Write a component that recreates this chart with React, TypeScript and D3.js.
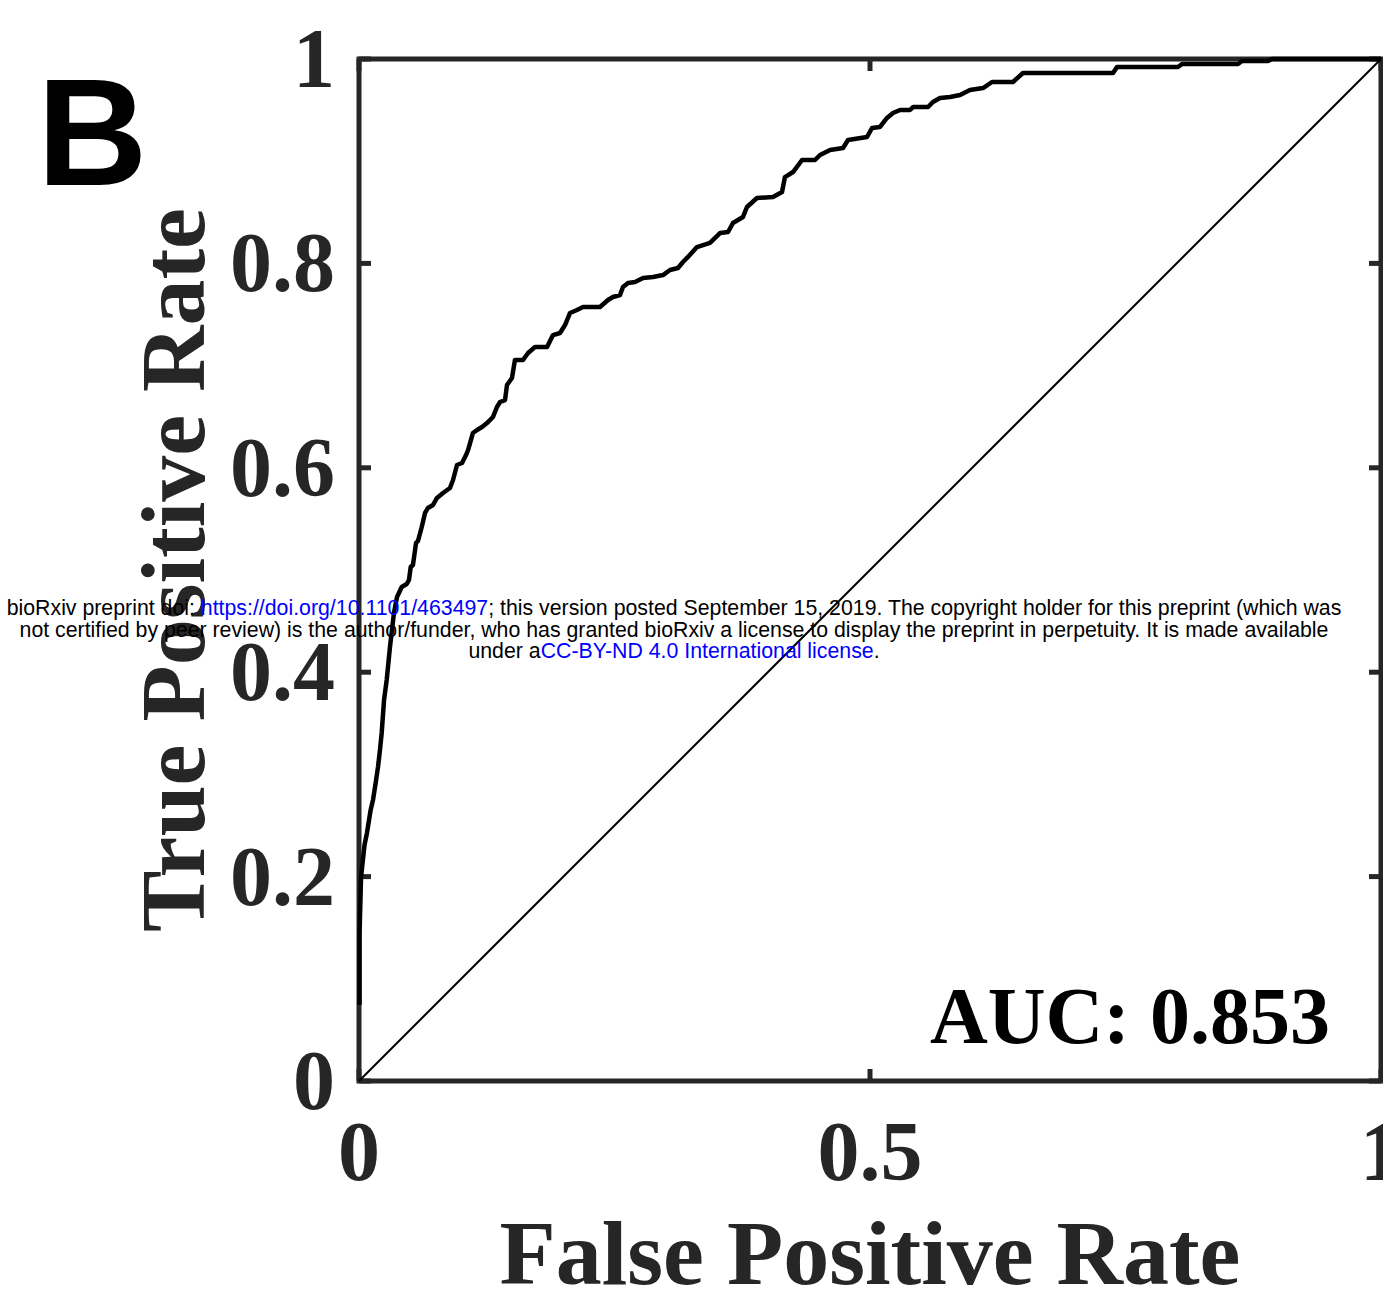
import React from "react";
import * as d3 from "d3";

// ROC curve points (False Positive Rate, True Positive Rate)
const fpr = [
  0.0005, 0.0005, 0.002, 0.0054, 0.0078, 0.0114, 0.0137, 0.0163, 0.0186, 0.0205,
  0.0222, 0.0245, 0.0271, 0.0303, 0.0342, 0.0372, 0.0418, 0.0467, 0.0489, 0.0506,
  0.0528, 0.0558, 0.0577, 0.0614, 0.0646, 0.0675, 0.0724, 0.0763, 0.0822, 0.089,
  0.092, 0.0959, 0.1008, 0.1047, 0.1067, 0.1115, 0.1155, 0.1204, 0.1252, 0.1311,
  0.135, 0.138, 0.1429, 0.1448, 0.1497, 0.1526, 0.1605, 0.1654, 0.1722, 0.184,
  0.1898, 0.1967, 0.2016, 0.2065, 0.2133, 0.2192, 0.2358, 0.2436, 0.2485, 0.2554,
  0.2583, 0.2632, 0.2701, 0.2779, 0.2877, 0.2975, 0.3043, 0.3121, 0.317, 0.3219,
  0.3307, 0.3434, 0.3532, 0.3611, 0.3659, 0.3757, 0.3796, 0.3894, 0.4051, 0.4139,
  0.4168, 0.4247, 0.4335, 0.4462, 0.4511, 0.4609, 0.4736, 0.4785, 0.4971, 0.502,
  0.5098, 0.5166, 0.5225, 0.5294, 0.5391, 0.5421, 0.5568, 0.5616, 0.5685, 0.5783,
  0.5881, 0.5978, 0.6106, 0.6194, 0.6399, 0.6497, 0.7378, 0.7417, 0.8014, 0.8053,
  0.8601, 0.864, 0.8894, 0.8933, 1.0,
];
const tpr = [
  0.0744, 0.1429, 0.1996, 0.2309, 0.2427, 0.2652, 0.275, 0.2916, 0.3072, 0.3239,
  0.3405, 0.3728, 0.3924, 0.4247, 0.4579, 0.4736, 0.4834, 0.4863, 0.4902, 0.5029,
  0.5049, 0.5264, 0.5284, 0.5421, 0.5558, 0.5607, 0.5636, 0.5705, 0.5753, 0.5802,
  0.5881, 0.6027, 0.6047, 0.6125, 0.6174, 0.6341, 0.637, 0.6399, 0.6438, 0.6497,
  0.6595, 0.6644, 0.6663, 0.681, 0.6879, 0.7055, 0.7055, 0.7123, 0.7182, 0.7182,
  0.7299, 0.7319, 0.7397, 0.7515, 0.7544, 0.7573, 0.7573, 0.7642, 0.7671, 0.7691,
  0.7769, 0.7808, 0.7818, 0.7857, 0.7867, 0.7886, 0.7935, 0.7955, 0.8014, 0.8063,
  0.816, 0.82, 0.8297, 0.8307, 0.8395, 0.8454, 0.8552, 0.864, 0.865, 0.8699,
  0.8845, 0.8894, 0.9012, 0.9012, 0.9061, 0.911, 0.9129, 0.9207, 0.9237, 0.9325,
  0.9335, 0.9423, 0.9472, 0.9501, 0.9501, 0.953, 0.953, 0.9579, 0.9618, 0.9628,
  0.9648, 0.9697, 0.9716, 0.9775, 0.9775, 0.9863, 0.9863, 0.9922, 0.9922, 0.9951,
  0.9951, 0.998, 0.998, 1.0, 1.0,
];
const xTicks = [0, 0.5, 1];
const xTickLabels = ["0", "0.5", "1"];
const yTicks = [0, 0.2, 0.4, 0.6, 0.8, 1];
const yTickLabels = ["0", "0.2", "0.4", "0.6", "0.8", "1"];
const xLabel = "False Positive Rate";
const yLabel = "True Positive Rate";
const aucText = "AUC: 0.853";
const panelLetter = "B";

const W = 1383;
const H = 1295;
const left = 359, right = 1381, top = 59, bottom = 1081;
const axisColor = "#262626";
const serif = "'Liberation Serif', 'Times New Roman', serif";
const sans = "'Liberation Sans', Arial, Helvetica, sans-serif";

export default function App() {
  const x = d3.scaleLinear().domain([0, 1]).range([left, right]);
  const y = d3.scaleLinear().domain([0, 1]).range([bottom, top]);
  const pts: [number, number][] = fpr.map((f, i) => [f, tpr[i]]);
  const line = d3
    .line<[number, number]>()
    .x((d) => x(d[0]))
    .y((d) => y(d[1]));
  const diag = line([
    [0, 0],
    [1, 1],
  ]);
  const tickLen = 12;
  const aw = 5;
  const blue = "#0000ff";
  const wmStyle = { fontFamily: sans, fontSize: 21.3, fill: "#000" } as const;

  return (
    <svg
      width={W}
      height={H}
      viewBox={`0 0 ${W} ${H}`}
      style={{ position: "absolute", left: 0, top: 0, display: "block", background: "#fff" }}
    >
      <rect x={0} y={0} width={W} height={H} fill="#fff" />
      {/* axes box */}
      <rect
        x={left}
        y={top}
        width={right - left}
        height={bottom - top}
        fill="none"
        stroke={axisColor}
        strokeWidth={aw}
      />
      {/* ticks */}
      {xTicks.map((t) => (
        <g key={"xt" + t}>
          <line x1={x(t)} x2={x(t)} y1={bottom} y2={bottom - tickLen} stroke={axisColor} strokeWidth={aw} />
          <line x1={x(t)} x2={x(t)} y1={top} y2={top + tickLen} stroke={axisColor} strokeWidth={aw} />
        </g>
      ))}
      {yTicks.map((t) => (
        <g key={"yt" + t}>
          <line x1={left} x2={left + tickLen} y1={y(t)} y2={y(t)} stroke={axisColor} strokeWidth={aw} />
          <line x1={right} x2={right - tickLen} y1={y(t)} y2={y(t)} stroke={axisColor} strokeWidth={aw} />
        </g>
      ))}
      {/* diagonal */}
      <path d={diag || ""} fill="none" stroke="#000" strokeWidth={2} />
      {/* ROC curve */}
      <path d={line(pts) || ""} fill="none" stroke="#000" strokeWidth={4.5} strokeLinejoin="round" />

      {/* tick labels */}
      {xTicks.map((t, i) => (
        <text
          key={"xl" + t}
          x={x(t)}
          y={1180}
          textAnchor="middle"
          fontFamily={serif}
          fontWeight="bold"
          fontSize={84}
          fill={axisColor}
        >
          {xTickLabels[i]}
        </text>
      ))}
      {yTicks.map((t, i) => (
        <text
          key={"yl" + t}
          x={335}
          y={y(t) + 28}
          textAnchor="end"
          fontFamily={serif}
          fontWeight="bold"
          fontSize={84}
          fill={axisColor}
        >
          {yTickLabels[i]}
        </text>
      ))}
      {/* axis labels */}
      <text
        x={(left + right) / 2}
        y={1284}
        textAnchor="middle"
        fontFamily={serif}
        fontWeight="bold"
        fontSize={92}
        fill={axisColor}
      >
        {xLabel}
      </text>
      <text
        transform={`translate(204, ${(top + bottom) / 2}) rotate(-90)`}
        textAnchor="middle"
        fontFamily={serif}
        fontWeight="bold"
        fontSize={92}
        fill={axisColor}
      >
        {yLabel}
      </text>
      {/* AUC annotation */}
      <text x={930} y={1043} fontFamily={serif} fontWeight="bold" fontSize={80} fill="#000">
        {aucText}
      </text>
      {/* panel letter */}
      <text x={37} y={185} fontFamily={sans} fontWeight="bold" fontSize={153} fill="#000">
        {panelLetter}
      </text>
      {/* bioRxiv watermark */}
      <text x={674} y={615} textAnchor="middle" style={wmStyle}>
        bioRxiv preprint doi: <tspan fill={blue}>https://doi.org/10.1101/463497</tspan>; this version posted
        September 15, 2019. The copyright holder for this preprint (which was
      </text>
      <text x={674} y={637} textAnchor="middle" style={wmStyle}>
        not certified by peer review) is the author/funder, who has granted bioRxiv a license to display the
        preprint in perpetuity. It is made available
      </text>
      <text x={674} y={658} textAnchor="middle" style={wmStyle}>
        under a<tspan fill={blue}>CC-BY-ND 4.0 International license</tspan>.
      </text>
    </svg>
  );
}
